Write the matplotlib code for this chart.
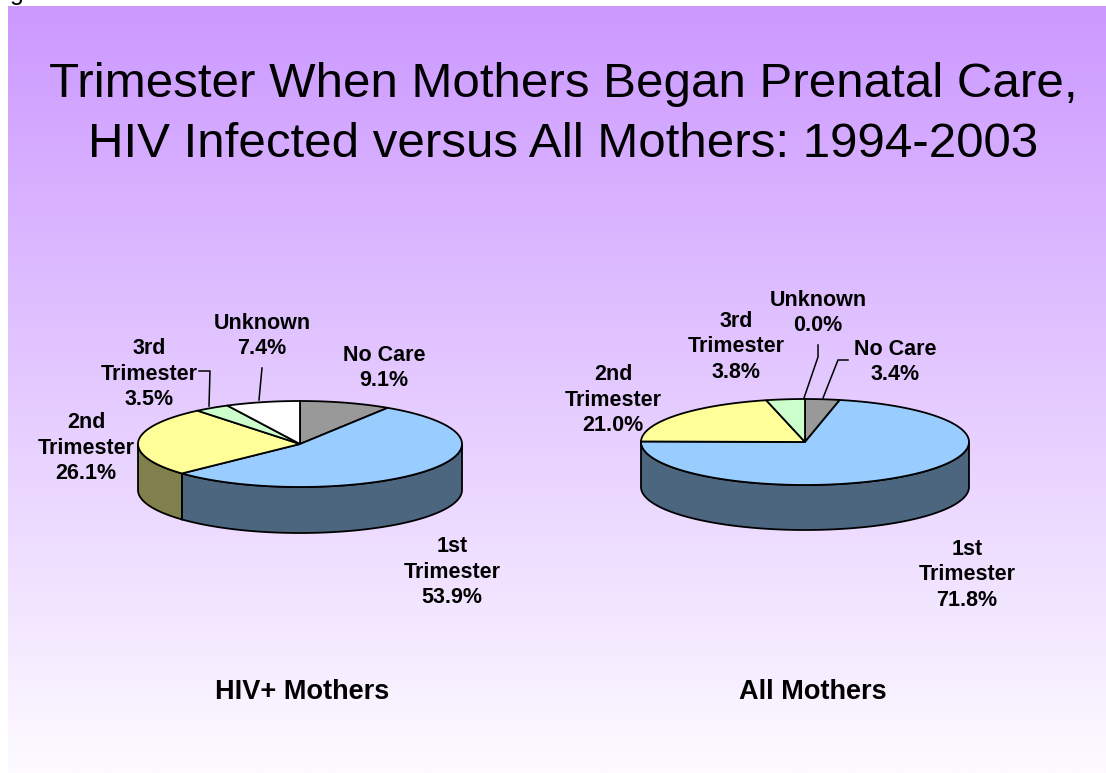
import matplotlib.pyplot as plt
import numpy as np
from matplotlib.patches import Polygon
from matplotlib.colors import to_rgb

# Data (percent, clockwise from 12 o'clock)
categories = ['No Care', '1st\nTrimester', '2nd\nTrimester', '3rd\nTrimester', 'Unknown']
hiv_pct = [9.1, 53.9, 26.1, 3.5, 7.4]
all_pct = [3.4, 71.8, 21.0, 3.8, 0.0]
panel_titles = ['HIV+ Mothers', 'All Mothers']
title_lines = ['Trimester When Mothers Began Prenatal Care,',
               'HIV Infected versus All Mothers: 1994-2003']

top_colors = ['#999999', '#99CCFF', '#FFFF99', '#CCFFCC', '#FFFFFF']

plt.rcParams['font.family'] = ['Liberation Sans', 'DejaVu Sans']

W, H = 1106, 773
fig = plt.figure(figsize=(W / 100, H / 100), dpi=100)
ax = fig.add_axes([0, 0, 1, 1])
ax.set_xlim(0, W)
ax.set_ylim(H, 0)
ax.axis('off')

# Background gradient (purple to white)
top = np.array([204, 153, 255]) / 255
bot = np.array([253, 251, 255]) / 255
f = np.linspace(0, 1, 256)[:, None]
grad = (top * (1 - f) + bot * f)[:, None, :]
ax.imshow(grad, extent=[8, W, H, 6], aspect='auto', zorder=0, interpolation='bilinear')

# cropped caption letter at top-left
ax.text(10, 0, 'g', fontsize=18, va='baseline', ha='left')


def darker(c):
    return tuple(np.array(to_rgb(c)) * 0.5)


def pie3d(values, cx, cy, rx, ry, depth):
    vals = np.array(values)
    starts = 90 - np.concatenate([[0], np.cumsum(vals)[:-1]]) * 3.6
    ends = starts - vals * 3.6
    # outer rim (front half only)
    for s, e, c in zip(starts, ends, top_colors):
        for k in range(-2, 2):
            lo = max(e, 180 + 360 * k)
            hi = min(s, 360 + 360 * k)
            if hi > lo:
                t = np.radians(np.linspace(lo, hi, 120))
                xs = cx + rx * np.cos(t)
                ys = cy - ry * np.sin(t)
                poly = np.column_stack([np.r_[xs, xs[::-1]], np.r_[ys, ys[::-1] + depth]])
                ax.add_patch(Polygon(poly, closed=True, fc=darker(c), ec='black',
                                     lw=1.3, zorder=2))
    # top faces
    for s, e, c in zip(starts, ends, top_colors):
        if s - e <= 0:
            continue
        t = np.radians(np.linspace(e, s, 200))
        pts = np.vstack([[cx, cy], np.column_stack([cx + rx * np.cos(t), cy - ry * np.sin(t)])])
        ax.add_patch(Polygon(pts, closed=True, fc=c, ec='black', lw=1.3, zorder=3))


pie3d(hiv_pct, 300, 444, 162, 43, 46)
pie3d(all_pct, 805, 442, 164, 43, 45)

# Labels
left_pos = [(384, 368), (452, 572), (86, 448), (149, 374), (262, 336)]
right_pos = [(895, 362), (967, 575), (613, 400), (736, 347), (818, 313)]
for vals, pos in [(hiv_pct, left_pos), (all_pct, right_pos)]:
    for name, v, (x, y) in zip(categories, vals, pos):
        ax.text(x, y, f'{name}\n{v:.1f}%', ha='center', va='center', fontsize=15.5,
                fontweight='bold', linespacing=1.3, zorder=4)

# Leader lines
lk = dict(color='black', lw=1.1, zorder=4)
ax.plot([199, 210, 209], [371, 371, 406], **lk)
ax.plot([262, 259], [368, 400], **lk)
ax.plot([818, 818, 804], [345, 357, 398], **lk)
ax.plot([848, 838, 823], [360, 360, 398], **lk)

# Panel titles
for x, t in zip([302, 813], panel_titles):
    ax.text(x, 692, t, ha='center', va='center', fontsize=19.5, fontweight='bold')

# Title
for y, line in zip([97, 157], title_lines):
    ax.text(563, y, line, ha='center', va='baseline', fontsize=35.5)

fig.savefig('out.png', dpi=100)
